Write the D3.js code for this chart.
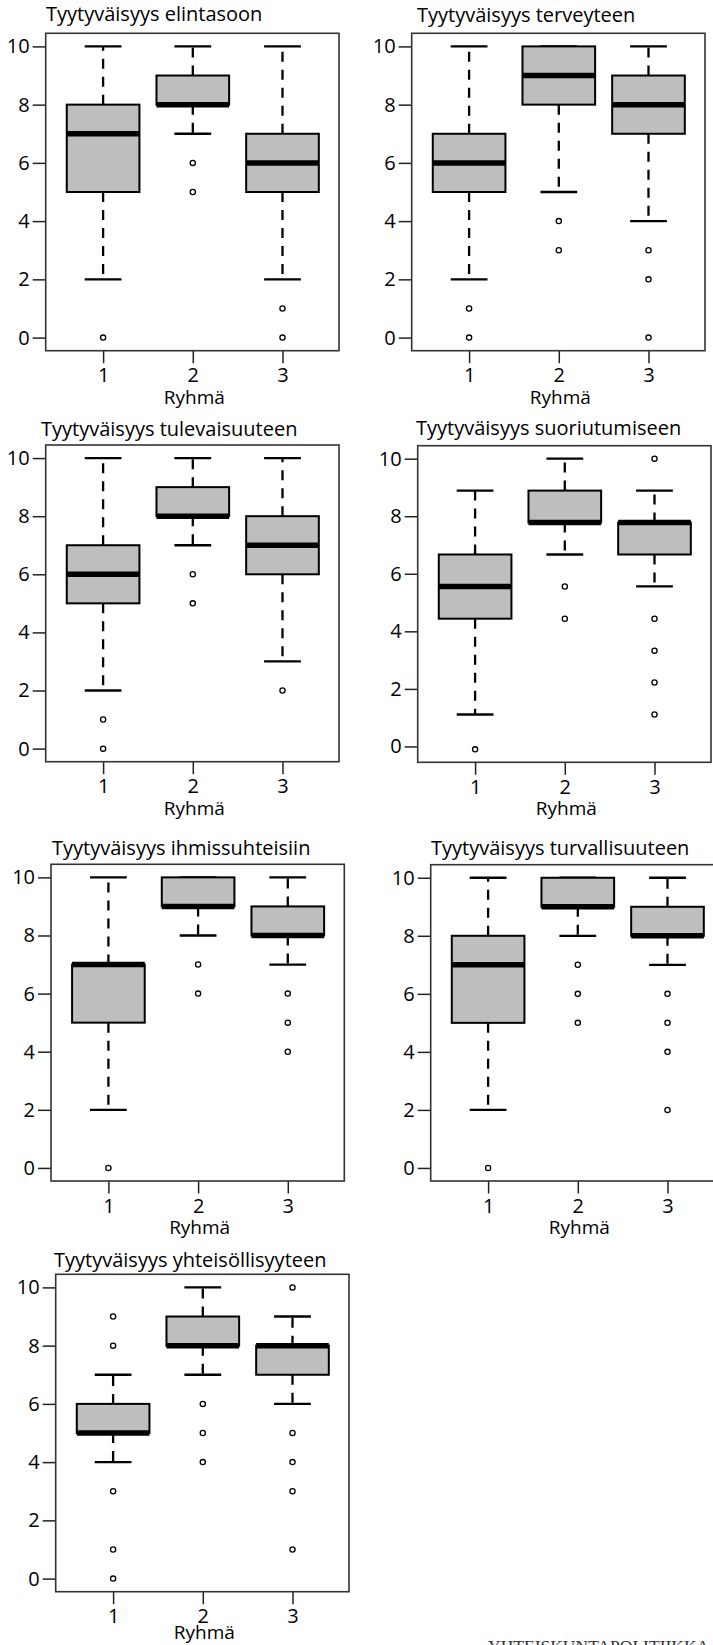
<!DOCTYPE html>
<html lang="fi">
<head>
<meta charset="utf-8">
<script src="https://d3js.org/d3.v7.min.js"></script>
<title>Tyytyväisyys ryhmittäin</title>
<style>
  html, body { margin: 0; padding: 0; background: #fff; }
  svg { display: block; }
  .tick text { font-family: "Open Sans", sans-serif; font-weight: 500; }
</style>
</head>
<body>
<div id="chart"></div>
<script>
// data
var titles = [
  "Tyytyväisyys elintasoon",
  "Tyytyväisyys terveyteen",
  "Tyytyväisyys tulevaisuuteen",
  "Tyytyväisyys suoriutumiseen",
  "Tyytyväisyys ihmissuhteisiin",
  "Tyytyväisyys turvallisuuteen",
  "Tyytyväisyys yhteisöllisyyteen"
];
var groups = [1, 2, 3];
var yTicks = [0, 2, 4, 6, 8, 10];
var xLabel = "Ryhmä";

// [alin viiksi, Q1, mediaani, Q3, ylin viiksi] per group
var stats = [
  [[2, 5, 7, 8, 10], [7, 8, 8, 9, 10], [2, 5, 6, 7, 10]],
  [[2, 5, 6, 7, 10], [5, 8, 9, 10, 10], [4, 7, 8, 9, 10]],
  [[2, 5, 6, 7, 10], [7, 8, 8, 9, 10], [3, 6, 7, 8, 10]],
  [[1.11, 4.44, 5.56, 6.67, 8.89], [6.67, 7.78, 7.78, 8.89, 10], [5.56, 6.67, 7.78, 7.78, 8.89]],
  [[2, 5, 7, 7, 10], [8, 9, 9, 10, 10], [7, 8, 8, 9, 10]],
  [[2, 5, 7, 8, 10], [8, 9, 9, 10, 10], [7, 8, 8, 9, 10]],
  [[4, 5, 5, 6, 7], [7, 8, 8, 9, 10], [6, 7, 8, 8, 9]]
];
var outliers = [
  [[0], [6, 5], [1, 0]],
  [[1, 0], [4, 3], [3, 2, 0]],
  [[1, 0], [6, 5], [2]],
  [[-0.1], [5.56, 4.44], [10, 4.44, 3.33, 2.22, 1.11]],
  [[0], [7, 6], [6, 5, 4]],
  [[0], [7, 6, 5], [6, 5, 4, 2]],
  [[9, 8, 3, 1, 0], [6, 5, 4], [10, 5, 4, 3, 1]]
];

// panel frames on the page
var frames = [
  {x: 45.7,  y: 33.3,   h: 317.4, lo: -0.45, tx: 46,    ty: 20.7},
  {x: 411.7, y: 33.3,   h: 317.4, lo: -0.45, tx: 417,   ty: 21.5},
  {x: 45.7,  y: 445,    h: 316.7, lo: -0.45, tx: 41,    ty: 436},
  {x: 417.7, y: 445.7,  h: 316.6, lo: -0.55, tx: 416,   ty: 435},
  {x: 51,    y: 864.3,  h: 316.7, lo: -0.45, tx: 52,    ty: 855},
  {x: 430.7, y: 864.7,  h: 316.3, lo: -0.45, tx: 431,   ty: 855},
  {x: 55.7,  y: 1274.3, h: 317.4, lo: -0.45, tx: 54,    ty: 1266.7}
];
var frameW = 293.3;
var boxW = 0.81, capW = 0.41;
var font = "'Open Sans', sans-serif";

var svg = d3.select("#chart").append("svg")
  .attr("width", 713)
  .attr("height", 1645);

titles.forEach(function(title, p) {
  var f = frames[p];
  var x = d3.scaleLinear().domain([0.36, 3.63]).range([f.x, f.x + frameW]);
  var y = d3.scaleLinear().domain([f.lo, 10.45]).range([f.y + f.h, f.y]);
  var g = svg.append("g");

  // y axis
  var ya = g.append("g")
    .attr("transform", "translate(" + f.x + ",0)")
    .call(d3.axisLeft(y).tickValues(yTicks).tickSize(13).tickPadding(3));
  ya.select(".domain").remove();
  ya.selectAll("line").attr("stroke", "#222").attr("stroke-width", 1.5);
  ya.selectAll("text").attr("font-size", 20).attr("fill", "#000");

  // x axis
  var xa = g.append("g")
    .attr("transform", "translate(0," + (f.y + f.h) + ")")
    .call(d3.axisBottom(x).tickValues(groups).tickFormat(d3.format("d"))
      .tickSize(12.5).tickPadding(5));
  xa.select(".domain").remove();
  xa.selectAll("line").attr("stroke", "#222").attr("stroke-width", 1.5);
  xa.selectAll("text").attr("font-size", 20).attr("fill", "#000");

  // boxes
  groups.forEach(function(grp, i) {
    var s = stats[p][i];
    var cx = x(grp);
    var hw = (x(grp + boxW / 2) - x(grp - boxW / 2)) / 2;
    var cw = (x(grp + capW / 2) - x(grp - capW / 2)) / 2;

    // whiskers
    [[s[1], s[0]], [s[3], s[4]]].forEach(function(seg) {
      if (seg[0] === seg[1]) return;
      g.append("line")
        .attr("x1", cx).attr("x2", cx)
        .attr("y1", y(seg[0])).attr("y2", y(seg[1]))
        .attr("stroke", "#000")
        .attr("stroke-width", 2.3)
        .attr("stroke-dasharray", "10,8");
    });
    // caps
    [s[0], s[4]].forEach(function(v) {
      g.append("line")
        .attr("x1", cx - cw).attr("x2", cx + cw)
        .attr("y1", y(v)).attr("y2", y(v))
        .attr("stroke", "#000")
        .attr("stroke-width", 2.3);
    });
    // box
    g.append("rect")
      .attr("x", cx - hw)
      .attr("y", y(s[3]))
      .attr("width", hw * 2)
      .attr("height", y(s[1]) - y(s[3]))
      .attr("fill", "#bebebe")
      .attr("stroke", "#000")
      .attr("stroke-width", 2);
    // median
    g.append("line")
      .attr("x1", cx - hw).attr("x2", cx + hw)
      .attr("y1", y(s[2])).attr("y2", y(s[2]))
      .attr("stroke", "#000")
      .attr("stroke-width", 5.5);
    // outliers
    g.selectAll(null)
      .data(outliers[p][i])
      .enter()
      .append("circle")
        .attr("cx", cx)
        .attr("cy", function(d) { return y(d); })
        .attr("r", 2.6)
        .attr("fill", "#fff")
        .attr("stroke", "#000")
        .attr("stroke-width", 1.3);
  });

  // frame
  g.append("rect")
    .attr("x", f.x).attr("y", f.y)
    .attr("width", frameW).attr("height", f.h)
    .attr("fill", "none")
    .attr("stroke", "#333")
    .attr("stroke-width", 1.6);

  // title
  g.append("text")
    .attr("x", f.tx).attr("y", f.ty)
    .attr("font-family", font)
    .attr("font-weight", 500)
    .attr("font-size", 20)
    .text(title);

  // x label
  var bottomGap = p === 6 ? 47.5 : 53;
  g.append("text")
    .attr("x", f.x + frameW / 2 + 2)
    .attr("y", f.y + f.h + bottomGap)
    .attr("text-anchor", "middle")
    .attr("font-family", font)
    .attr("font-weight", 500)
    .attr("font-size", 19)
    .text(xLabel);
});

// page footer, cut off by the bottom edge
svg.append("text")
  .attr("x", 488)
  .attr("y", 1652)
  .attr("font-family", "'Liberation Serif', serif")
  .attr("font-size", 17.5)
  .attr("fill", "#333")
  .text("YHTEISKUNTAPOLITIIKKA");
</script>
</body>
</html>
